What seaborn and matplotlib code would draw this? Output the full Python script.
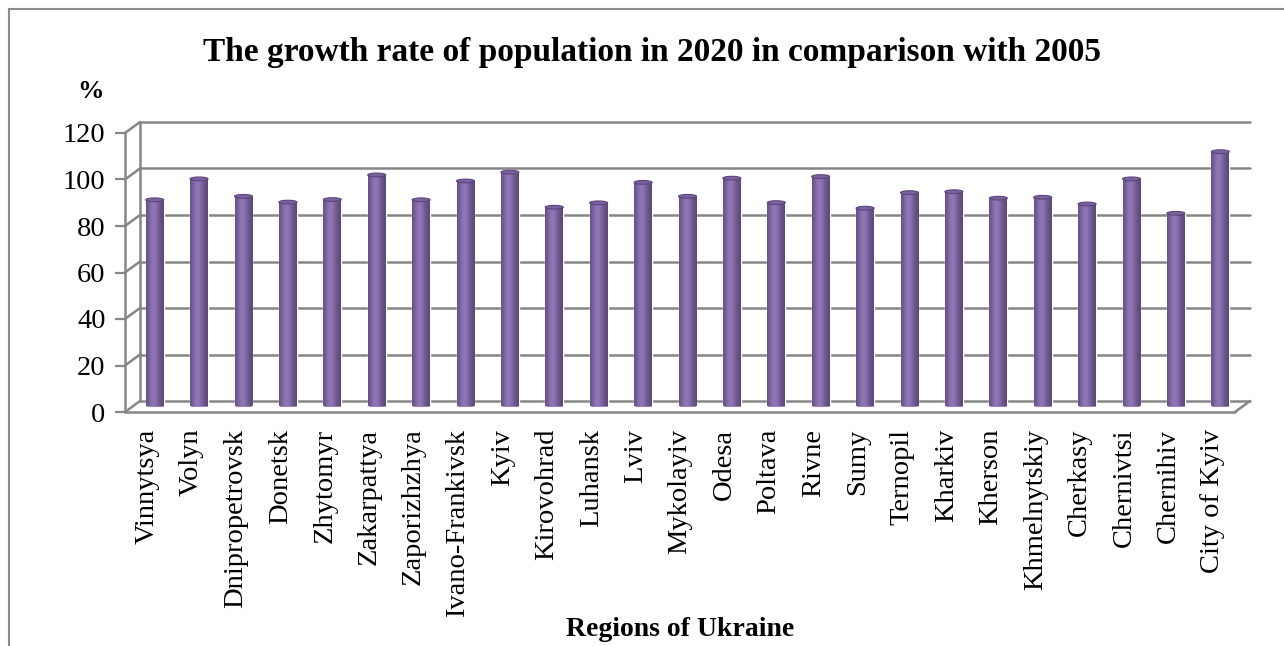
import numpy as np
import pandas as pd
import seaborn as sns
import matplotlib.pyplot as plt
from matplotlib.patches import Rectangle, Ellipse
from matplotlib.transforms import ScaledTranslation, blended_transform_factory

# data
regions = ["Vinnytsya", "Volyn", "Dnipropetrovsk", "Donetsk", "Zhytomyr",
           "Zakarpattya", "Zaporizhzhya", "Ivano-Frankivsk", "Kyiv",
           "Kirovohrad", "Luhansk", "Lviv", "Mykolayiv", "Odesa", "Poltava",
           "Rivne", "Sumy", "Ternopil", "Kharkiv", "Kherson", "Khmelnytskiy",
           "Cherkasy", "Chernivtsi", "Chernihiv", "City of Kyiv"]
growth = [88.9, 97.9, 90.4, 87.9, 89.0, 99.6, 88.9, 97.0, 100.8,
          85.7, 87.6, 96.4, 90.4, 98.2, 87.7, 98.9, 85.3, 92.0,
          92.4, 89.6, 90.0, 87.1, 97.9, 83.1, 109.6]
yticks = [0, 20, 40, 60, 80, 100, 120]

df = pd.DataFrame({"region": regions, "growth": growth})

sns.set_style("white")
plt.rcParams["font.family"] = ["Liberation Serif", "DejaVu Serif"]
plt.rcParams["text.color"] = "black"
plt.rcParams["xtick.color"] = "black"
plt.rcParams["ytick.color"] = "black"

W, H = 1284, 646
fig = plt.figure(figsize=(W / 100, H / 100), dpi=100)
# axes = middle depth plane of the 3d box
ax = fig.add_axes([132.5 / W, (H - 406.5) / H, 1110 / W, 279 / H])

# offsets for the front and back planes (pseudo 3d)
dx, dy = 7.5 / 100, 5.5 / 100
front = ScaledTranslation(-dx, -dy, fig.dpi_scale_trans)
back = ScaledTranslation(dx, dy, fig.dpi_scale_trans)
grey = "#868686"

purple = "#8064A2"
sns.barplot(data=df, x="region", y="growth", color=purple, width=0.405,
            saturation=1, ax=ax, zorder=3)

# cylinder-like shading
g = np.linspace(0, 1, 80)
light = np.exp(-((g - 0.42) / 0.33) ** 2)
dark = np.array([0x5C, 0x48, 0x7A]) / 255
bright = np.array([0x90, 0x76, 0xB7]) / 255
img = np.ones((1, 80, 4))
for i in range(3):
    img[0, :, i] = dark[i] + (bright[i] - dark[i]) * light
for p in list(ax.patches):
    x0, w, h = p.get_x(), p.get_width(), p.get_height()
    ax.add_patch(Ellipse((x0 + w / 2, 0), w, 1.6, facecolor="#5f4a7e",
                         edgecolor="none", zorder=2.5))
    im = ax.imshow(img, extent=[x0, x0 + w, 0, h], aspect="auto",
                   zorder=4, interpolation="bilinear")
    im.set_clip_path(p)
    ax.add_patch(Ellipse((x0 + w / 2, h), w, 1.6, facecolor="#7d62a2",
                         edgecolor="#5a4578", lw=0.8, zorder=5))

ax.set_xlim(-0.5, len(regions) - 0.5)
ax.set_ylim(0, 120)
for s in ax.spines.values():
    s.set_visible(False)
ax.set_xlabel("")
ax.set_ylabel("")

# back wall gridlines, front axis, floor and the diagonals between them
bt = blended_transform_factory(ax.transAxes, ax.transData)
line_kw = dict(color=grey, lw=1.8, clip_on=False)
for t in yticks:
    ax.plot([0, 1], [t, t], transform=bt + back, zorder=0, **line_kw)
ax.plot([0, 0], [0, 120], transform=bt + back, zorder=0, **line_kw)
ax.plot([0, 0], [0, 120], transform=bt + front, zorder=6, **line_kw)
ax.plot([0, 1], [0, 0], transform=bt + front, zorder=6, **line_kw)
diag = dict(arrowstyle="-", color=grey, lw=1.8, shrinkA=0, shrinkB=0)
for t in yticks:
    ax.annotate("", xy=(0, t), xycoords=bt + back, xytext=(0, t),
                textcoords=bt + front, arrowprops=diag)
ax.annotate("", xy=(1, 0), xycoords=bt + back, xytext=(1, 0),
            textcoords=bt + front, arrowprops=diag)

ax.set_yticks(yticks)
ax.set_yticklabels([str(t) for t in yticks], fontsize=20.5)
ax.tick_params(axis="y", length=7, width=1.6, color=grey, pad=7, left=True)
ax.set_xticks(range(len(regions)))
ax.set_xticklabels(regions, rotation=90, fontsize=20.5, va="top")
ax.tick_params(axis="x", length=0, pad=12)
for lab in ax.get_yticklabels() + ax.get_xticklabels():
    lab.set_transform(lab.get_transform() + front)
for tk in ax.yaxis.get_major_ticks():
    tk.tick1line.set_transform(tk.tick1line.get_transform() + front)

fig.text(652 / W, 1 - 61 / H,
         "The growth rate of population in 2020 in comparison with 2005",
         ha="center", va="baseline", fontsize=24, fontweight="bold")
fig.text(91 / W, 1 - 91 / H, "%", ha="center", va="center", fontsize=19,
         fontweight="bold")
fig.text(680 / W, 1 - 636 / H, "Regions of Ukraine", ha="center",
         va="baseline", fontsize=20, fontweight="bold")

fig.patches.append(Rectangle((9 / W, -0.05), 1.1, 1.05 - 9 / H,
                             transform=fig.transFigure, fill=False,
                             edgecolor="#8c8c8c", lw=1.5))

fig.savefig("out.png", dpi=100)
